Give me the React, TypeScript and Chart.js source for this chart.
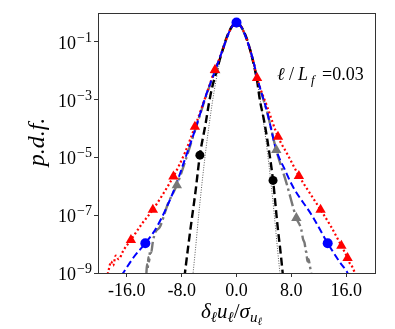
import React, { useEffect, useRef } from 'react';
import { Chart, registerables } from 'chart.js';
Chart.register(...registerables);

// ---- data ----
const xTicks = [-16, -8, 0, 8, 16];
const yTickExps = [-1, -3, -5, -7, -9];

// thin dotted reference curve
const gaussX = [-6.4, -6, -5.5, -5, -4.5, -4, -3.5, -3, -2.5, -2, -1.5, -1, -0.5, 0, 0.5, 1, 1.5, 2, 2.5, 3, 3.5, 4, 4.5, 5, 5.5, 6, 6.4];
const gaussY = [6.9e-10, 6.1e-9, 1.1e-7, 1.5e-6, 1.6e-5, 1.3e-4, 8.7e-4, 4.4e-3, 1.75e-2, 5.4e-2, 0.13, 0.242, 0.352, 0.399, 0.352, 0.242, 0.13, 5.4e-2, 1.75e-2, 4.4e-3, 8.7e-4, 1.3e-4, 1.6e-5, 1.5e-6, 1.1e-7, 6.1e-9, 6.9e-10];

// black dashed
const blackX = [-7.6, -7, -6.5, -6, -5.34, -4.5, -4, -3.5, -3, -2.5, -2, -1.5, -1, -0.5, 0, 0.5, 1, 1.5, 2, 2.5, 3, 3.4, 4, 4.5, 5.33, 6, 6.4, 6.8];
const blackY = [7e-10, 1e-8, 8e-8, 6e-7, 1.2e-5, 1.5e-4, 8e-4, 3e-3, 8e-3, 2.2e-2, 5.5e-2, 0.13, 0.25, 0.38, 0.46, 0.38, 0.25, 0.13, 5.2e-2, 1.7e-2, 4.6e-3, 1e-3, 2e-4, 4e-5, 1.6e-6, 4e-8, 6e-9, 7e-10];
const blackMarkX = [-5.34, 0, 5.33];
const blackMarkY = [1.2e-5, 0.46, 1.6e-6];

// blue dashed
const blueX = [-16.8, -15, -13.3, -11.6, -9, -7.5, -6.04, -4.5, -3, -2.5, -2, -1.5, -1, -0.5, 0, 0.5, 1, 1.5, 2, 2.5, 3, 4.5, 5.8, 7, 8.2, 11.1, 13.3, 15, 16.1, 16.5];
const blueY = [8e-10, 3.5e-9, 1.07e-8, 4e-8, 8.7e-7, 9e-6, 9e-5, 1.3e-3, 1.2e-2, 2.6e-2, 5.5e-2, 0.12, 0.24, 0.39, 0.47, 0.39, 0.24, 0.12, 5.2e-2, 2e-2, 6e-3, 3.5e-4, 1.8e-5, 4e-6, 1e-6, 9e-8, 1.07e-8, 2.5e-9, 1.1e-9, 7e-10];
const blueMarkX = [-13.3, 0, 13.3];
const blueMarkY = [1.07e-8, 0.47, 1.07e-8];

// red dotted
const redX = [-18.8, -18.6, -18.3, -18.0, -17.6, -17.2, -16.5, -15.4, -13.8, -12.2, -10.6, -9.2, -7.5, -6.07, -4.5, -3.15, -2.5, -2, -1.5, -1, -0.5, 0, 0.5, 1, 1.5, 2, 2.5, 3.0, 4.5, 6.05, 7.5, 9.1, 10.6, 12.26, 13.8, 15.3, 16.2, 16.5, 16.9, 17.2, 17.5];
const redY = [9e-10, 1.4e-9, 2.5e-9, 1.8e-9, 4e-9, 3e-9, 6e-9, 1.4e-8, 5e-8, 1.55e-7, 6e-7, 2.2e-6, 1.5e-5, 1.15e-4, 1.3e-3, 1.07e-2, 2.6e-2, 5.5e-2, 0.12, 0.24, 0.39, 0.47, 0.39, 0.24, 0.12, 5e-2, 1.9e-2, 5.6e-3, 5.5e-4, 5.2e-5, 1.2e-5, 2.3e-6, 6.3e-7, 1.55e-7, 4e-8, 8.7e-9, 3.3e-9, 2.2e-9, 1.6e-9, 1.1e-9, 8e-10];
const redMarkX = [-15.4, -12.2, -9.2, -6.07, -3.15, 3.0, 6.05, 9.1, 12.26, 15.3, 16.2];
const redMarkY = [1.4e-8, 1.55e-7, 2.2e-6, 1.15e-4, 1.07e-2, 5.6e-3, 5.2e-5, 2.3e-6, 1.55e-7, 8.7e-9, 3.3e-9];

// grey dash-dot
const greyX = [-13.15, -13.05, -12.95, -12.85, -12.75, -12.6, -12.45, -12.2, -11.9, -11.16, -10, -8.7, -7.3, -6.1, -4.5, -3.1, -2.5, -2, -1.5, -1, -0.5, 0, 0.5, 1, 1.5, 2, 2.5, 3, 4.5, 5.8, 7.3, 8.73, 9.45, 9.7, 9.93, 10.1, 10.2, 10.35, 10.5, 10.66, 10.8, 10.95];
const greyY = [9e-10, 2e-9, 1.4e-9, 3.5e-9, 2.5e-9, 6e-9, 5e-9, 1.2e-8, 2.4e-8, 4e-8, 2.5e-7, 1.1e-6, 1e-5, 8e-5, 1.2e-3, 1.05e-2, 2.5e-2, 5.4e-2, 0.12, 0.24, 0.39, 0.47, 0.39, 0.24, 0.12, 5.1e-2, 1.9e-2, 5.5e-3, 3.5e-4, 1.8e-5, 1.26e-6, 8e-8, 3.2e-8, 1.5e-8, 1.1e-8, 6e-9, 5e-9, 2.5e-9, 3e-9, 2e-9, 1.3e-9, 8e-10];
const greyMarkX = [-8.7, -3.1, 5.8, 8.73];
const greyMarkY = [1.1e-6, 1.05e-2, 1.8e-5, 8e-8];

const pts = (xs: number[], ys: number[]) => xs.map((x, i) => ({ x, y: ys[i] }));

const SERIF = "'Liberation Serif', 'DejaVu Serif', serif";

type Seg = { t: string; size: number; dy: number; italic: boolean; x?: number };
function drawSegs(ctx: CanvasRenderingContext2D, segs: Seg[], x: number, y: number) {
  let cx = x;
  for (const s of segs) {
    if (s.x !== undefined) cx = s.x;
    ctx.font = `${s.italic ? 'italic ' : ''}${s.size}px ${SERIF}`;
    ctx.fillText(s.t, cx, y + s.dy);
    cx += ctx.measureText(s.t).width;
  }
}

const textPlugin = {
  id: 'texts',
  afterDraw(chart: any) {
    const ctx: CanvasRenderingContext2D = chart.ctx;
    const { left, right, top, bottom } = chart.chartArea;
    ctx.save();
    // frame
    ctx.strokeStyle = '#333';
    ctx.lineWidth = 1;
    ctx.strokeRect(Math.round(left) + 0.5, Math.round(top) + 0.5, Math.round(right - left), Math.round(bottom - top));
    ctx.fillStyle = '#000';
    ctx.textBaseline = 'alphabetic';
    ctx.textAlign = 'left';
    // y tick labels 10^e
    const ys = chart.scales.y;
    for (const e of yTickExps) {
      const py = ys.getPixelForValue(Math.pow(10, e));
      const sup = '\u2212' + String(-e);
      ctx.font = `14px ${SERIF}`;
      const wSup = ctx.measureText(sup).width;
      ctx.font = `18px ${SERIF}`;
      const wBase = ctx.measureText('10').width;
      const xr = left - 6;
      ctx.fillText('10', xr - wSup - 1 - wBase, py + 7);
      ctx.font = `14px ${SERIF}`;
      ctx.fillText(sup, xr - wSup, py + 0);
    }
    // x title
    drawSegs(ctx, [
      { t: 'δ', size: 21, dy: 0, italic: true },
      { t: 'ℓ', size: 15, dy: 4, italic: true },
      { t: 'u', size: 21, dy: 0, italic: true },
      { t: 'ℓ', size: 15, dy: 4, italic: true },
      { t: '/', size: 21, dy: 0, italic: false },
      { t: 'σ', size: 21, dy: 0, italic: true },
      { t: 'u', size: 15, dy: 4, italic: true },
      { t: 'ℓ', size: 11, dy: 7, italic: true },
    ], 201, 318);
    // annotation
    drawSegs(ctx, [
      { t: 'ℓ', size: 18, dy: 0, italic: true, x: 277 },
      { t: '/', size: 18, dy: 0, italic: false, x: 289 },
      { t: 'L', size: 18, dy: 0, italic: true, x: 298 },
      { t: 'f', size: 13, dy: 4, italic: true, x: 311 },
      { t: '=0.03', size: 18, dy: 0, italic: false, x: 322 },
    ], 277, 80);
    // y title
    ctx.translate(38, 142);
    ctx.rotate(-Math.PI / 2);
    ctx.font = `italic 24px ${SERIF}`;
    ctx.textAlign = 'center';
    ctx.textBaseline = 'middle';
    ctx.fillText('p.d.f.', 0, 0);
    ctx.restore();
  },
};

export default function App() {
  const ref = useRef<HTMLCanvasElement>(null);
  useEffect(() => {
    if (!ref.current) return;
    const line = (data: any[], color: string, width: number, dash: number[], order: number) => ({
      type: 'line' as const,
      data,
      showLine: true,
      borderColor: color,
      backgroundColor: color,
      borderWidth: width,
      borderDash: dash,
      pointRadius: 0,
      cubicInterpolationMode: 'monotone' as const,
      fill: false,
      order,
    });
    const marks = (data: any[], color: string, style: string, r: number, order: number) => ({
      type: 'scatter' as const,
      data,
      showLine: false,
      pointStyle: style,
      pointRadius: r,
      backgroundColor: color,
      borderColor: color,
      borderWidth: 0,
      order,
    });
    const chart = new Chart(ref.current, {
      type: 'scatter',
      data: {
        datasets: [
          marks(pts(blueMarkX, blueMarkY), '#0000ff', 'circle', 5, 0),
          marks(pts(redMarkX, redMarkY), '#ff0000', 'triangle', 6, 1),
          marks(pts(blackMarkX, blackMarkY), '#000000', 'circle', 4.5, 2),
          marks(pts(greyMarkX, greyMarkY), '#777777', 'triangle', 6, 3),
          line(pts(blueX, blueY), '#0000ff', 2, [7, 3.5], 4),
          line(pts(redX, redY), '#ff0000', 2.2, [2, 2.5], 5),
          line(pts(blackX, blackY), '#000000', 2.4, [8, 4], 6),
          line(pts(greyX, greyY), '#777777', 2.4, [12, 3.5, 2.5, 3.5], 7),
          line(pts(gaussX, gaussY), '#333333', 0.8, [1, 1.5], 8),
        ] as any,
      },
      options: {
        responsive: false,
        animation: false,
        events: [],
        layout: { padding: { top: 13, right: 20, left: 0, bottom: 0 } },
        plugins: { legend: { display: false }, tooltip: { enabled: false } },
        scales: {
          x: {
            type: 'linear',
            min: -20.2,
            max: 20.2,
            afterBuildTicks: (s: any) => { s.ticks = xTicks.map((v) => ({ value: v })); },
            afterFit: (s: any) => { s.height = 56; },
            ticks: {
              callback: (v: any) => Number(v).toFixed(1),
              font: { family: SERIF, size: 18 },
              color: '#000',
              padding: 3,
              maxRotation: 0,
              autoSkip: false,
            },
            grid: { drawOnChartArea: false, drawTicks: true, tickLength: 4, color: '#333' },
            border: { display: false },
          },
          y: {
            type: 'logarithmic',
            min: 1e-9,
            max: 1,
            afterBuildTicks: (s: any) => { s.ticks = yTickExps.map((e) => ({ value: Math.pow(10, e) })); },
            afterFit: (s: any) => { s.width = 98; },
            ticks: { callback: () => '', autoSkip: false },
            grid: { drawOnChartArea: false, drawTicks: true, tickLength: 4, color: '#333' },
            border: { display: false },
          },
        },
      } as any,
      plugins: [textPlugin],
    });
    return () => chart.destroy();
  }, []);
  return (
    <div style={{ position: 'absolute', left: 0, top: 0, width: 395, height: 329, background: '#fff' }}>
      <canvas ref={ref} width={395} height={329} />
    </div>
  );
}
